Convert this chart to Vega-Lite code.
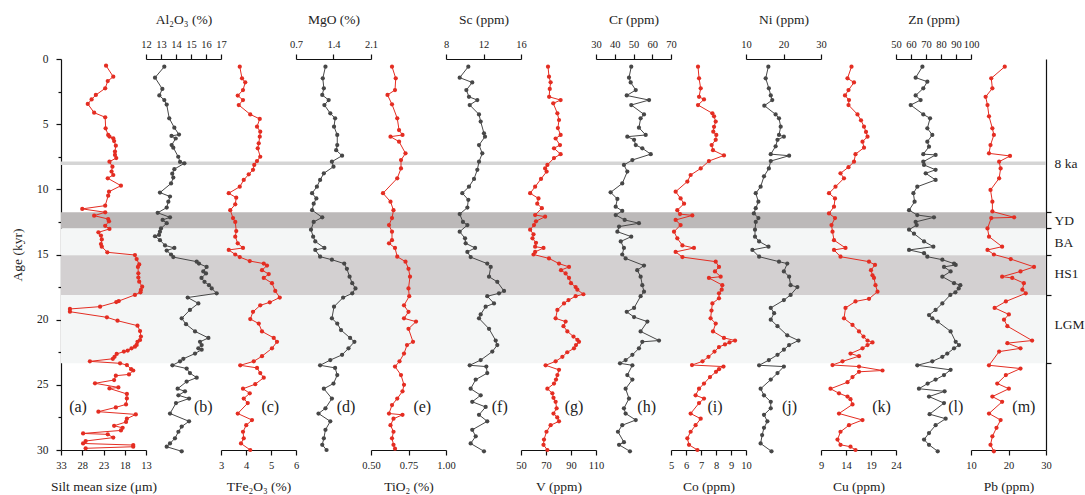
{
  "$schema": "https://vega.github.io/schema/vega-lite/v6.json",
  "padding": {"left": 10, "top": 12, "right": 5, "bottom": 2},
  "background": "white",
  "spacing": 0,
  "bounds": "flush",
  "config": {
    "font": "Liberation Serif",
    "view": {"stroke": null},
    "axis": {"domainColor": "#111", "tickColor": "#111", "labelColor": "#222", "titleColor": "#222", "labelFontSize": 10.5, "titleFontSize": 13.5, "titleFontWeight": "normal", "grid": false, "tickSize": 5, "domainWidth": 1.2, "tickWidth": 1.2, "labelFlush": false, "labelOverlap": false, "labelPadding": 5, "titlePadding": 13},
    "axisBottom": {"titlePadding": 9},
    "text": {"font": "Liberation Serif"}
  },
  "datasets": {
    "bands": [
      {"start": 11.75, "end": 13.0, "kind": "YD"},
      {"start": 13.0, "end": 15.05, "kind": "BA"},
      {"start": 15.05, "end": 18.1, "kind": "HS1"},
      {"start": 18.1, "end": 23.35, "kind": "LGM"}
    ],
    "silt": [
      {"age":0.51,"v":22.4},{"age":1.36,"v":20.7},{"age":1.69,"v":22.0},{"age":2.25,"v":22.6},{"age":2.76,"v":24.8},{"age":3.1,"v":25.8},{"age":3.45,"v":26.7},{"age":4.12,"v":25.2},{"age":4.47,"v":22.6},{"age":5.32,"v":22.5},{"age":5.83,"v":21.9},{"age":5.95,"v":21.6},{"age":6.09,"v":20.7},{"age":6.3,"v":20.5},{"age":6.65,"v":20.1},{"age":7.1,"v":20.3},{"age":7.36,"v":20.3},{"age":7.6,"v":20.0},{"age":7.88,"v":21.6},{"age":8.26,"v":20.9},{"age":8.64,"v":21.1},{"age":8.9,"v":20.7},{"age":9.15,"v":22.0},{"age":9.72,"v":18.9},{"age":10.18,"v":21.7},{"age":10.49,"v":21.9},{"age":11.25,"v":22.6},{"age":11.5,"v":28.0},{"age":11.76,"v":22.6},{"age":12.02,"v":25.2},{"age":12.28,"v":21.9},{"age":12.45,"v":21.7},{"age":12.8,"v":22.6},{"age":13.04,"v":21.6},{"age":13.3,"v":24.2},{"age":13.55,"v":23.6},{"age":13.84,"v":23.4},{"age":14.2,"v":23.6},{"age":14.4,"v":23.4},{"age":14.83,"v":22.1},{"age":15.04,"v":15.6},{"age":15.35,"v":15.2},{"age":15.76,"v":14.6},{"age":15.95,"v":14.9},{"age":16.44,"v":14.8},{"age":16.77,"v":14.8},{"age":17.09,"v":14.6},{"age":17.47,"v":13.9},{"age":17.72,"v":14.2},{"age":17.9,"v":14.3},{"age":18.1,"v":15.6},{"age":18.57,"v":19.4},{"age":18.65,"v":20.0},{"age":19.0,"v":23.8},{"age":19.18,"v":30.9},{"age":19.39,"v":30.9},{"age":19.82,"v":22.2},{"age":20.08,"v":19.7},{"age":20.46,"v":15.0},{"age":20.87,"v":14.4},{"age":21.3,"v":14.2},{"age":21.56,"v":14.4},{"age":21.7,"v":15.0},{"age":21.94,"v":15.2},{"age":22.07,"v":15.6},{"age":22.2,"v":16.4},{"age":22.37,"v":17.3},{"age":22.45,"v":18.2},{"age":22.63,"v":19.9},{"age":22.85,"v":20.4},{"age":23.0,"v":20.8},{"age":23.2,"v":26.2},{"age":23.35,"v":19.1},{"age":23.48,"v":17.5},{"age":23.8,"v":16.5},{"age":23.9,"v":16.0},{"age":24.2,"v":17.0},{"age":24.3,"v":20.1},{"age":24.63,"v":20.5},{"age":24.88,"v":25.0},{"age":25.2,"v":19.5},{"age":25.28,"v":21.6},{"age":25.7,"v":17.5},{"age":26.04,"v":17.5},{"age":26.5,"v":17.7},{"age":26.73,"v":20.1},{"age":27.06,"v":24.2},{"age":27.27,"v":15.4},{"age":27.6,"v":17.5},{"age":27.85,"v":17.7},{"age":28.14,"v":20.5},{"age":28.3,"v":18.5},{"age":28.5,"v":18.9},{"age":28.73,"v":27.8},{"age":28.8,"v":22.0},{"age":29.05,"v":20.7},{"age":29.31,"v":27.2},{"age":29.5,"v":27.8},{"age":29.62,"v":16.0},{"age":29.75,"v":16.0},{"age":29.87,"v":27.2}
    ],
    "al": [
      {"age":0.59,"v":13.22},{"age":1.43,"v":12.6},{"age":2.3,"v":13.09},{"age":2.8,"v":12.89},{"age":3.15,"v":13.22},{"age":3.5,"v":13.38},{"age":4.55,"v":13.55},{"age":5.27,"v":13.89},{"age":5.8,"v":14.2},{"age":5.9,"v":13.7},{"age":6.1,"v":13.98},{"age":6.6,"v":13.71},{"age":6.8,"v":13.82},{"age":7.5,"v":14.15},{"age":7.9,"v":14.27},{"age":8.0,"v":14.56},{"age":8.45,"v":13.89},{"age":8.8,"v":13.75},{"age":9.1,"v":13.82},{"age":9.55,"v":13.67},{"age":10.25,"v":12.93},{"age":10.55,"v":13.6},{"age":10.95,"v":13.49},{"age":11.4,"v":13.38},{"age":11.8,"v":12.78},{"age":12.15,"v":13.6},{"age":12.35,"v":13.11},{"age":12.6,"v":13.38},{"age":13.0,"v":13.0},{"age":13.25,"v":12.93},{"age":13.5,"v":12.87},{"age":13.6,"v":12.6},{"age":13.9,"v":12.93},{"age":14.3,"v":13.27},{"age":14.5,"v":13.89},{"age":14.7,"v":13.38},{"age":15.0,"v":13.67},{"age":15.2,"v":13.82},{"age":15.55,"v":15.38},{"age":15.7,"v":15.53},{"age":15.95,"v":16.04},{"age":16.3,"v":15.82},{"age":16.45,"v":16.0},{"age":16.8,"v":15.7},{"age":17.1,"v":15.9},{"age":17.35,"v":16.2},{"age":17.6,"v":16.38},{"age":17.98,"v":16.71},{"age":18.3,"v":14.78},{"age":18.75,"v":15.49},{"age":19.25,"v":14.93},{"age":19.9,"v":14.38},{"age":20.35,"v":14.67},{"age":20.9,"v":15.27},{"age":21.4,"v":16.16},{"age":21.7,"v":15.6},{"age":21.95,"v":15.71},{"age":22.2,"v":15.49},{"age":22.3,"v":15.71},{"age":22.6,"v":15.27},{"age":23.0,"v":14.49},{"age":23.2,"v":14.27},{"age":23.5,"v":13.76},{"age":23.75,"v":14.71},{"age":24.1,"v":14.93},{"age":24.45,"v":15.38},{"age":24.75,"v":14.71},{"age":25.3,"v":14.11},{"age":25.5,"v":14.6},{"age":25.8,"v":14.16},{"age":26.05,"v":14.87},{"age":26.4,"v":14.0},{"age":27.2,"v":13.6},{"age":27.8,"v":14.87},{"age":28.2,"v":14.38},{"age":28.6,"v":14.16},{"age":29.1,"v":13.93},{"age":29.5,"v":13.6},{"age":29.75,"v":13.38},{"age":30.1,"v":14.38}
    ],
    "tfe": [
      {"age":0.59,"v":3.75},{"age":1.48,"v":3.84},{"age":1.79,"v":3.97},{"age":2.38,"v":3.88},{"age":2.81,"v":3.67},{"age":3.15,"v":3.88},{"age":3.53,"v":3.71},{"age":4.25,"v":4.17},{"age":4.6,"v":4.55},{"age":5.19,"v":4.44},{"age":5.58,"v":4.57},{"age":5.96,"v":4.55},{"age":6.47,"v":4.51},{"age":6.85,"v":4.47},{"age":7.5,"v":4.57},{"age":7.83,"v":4.44},{"age":8.13,"v":4.33},{"age":8.5,"v":4.28},{"age":8.85,"v":4.11},{"age":9.28,"v":3.91},{"age":9.8,"v":3.75},{"age":10.3,"v":3.31},{"age":10.64,"v":3.61},{"age":11.15,"v":3.57},{"age":11.6,"v":3.37},{"age":12.2,"v":3.48},{"age":12.5,"v":3.57},{"age":13.2,"v":3.61},{"age":13.63,"v":3.57},{"age":14.14,"v":3.67},{"age":14.5,"v":3.88},{"age":14.65,"v":3.31},{"age":15.0,"v":3.57},{"age":15.2,"v":3.75},{"age":15.5,"v":4.15},{"age":15.7,"v":4.71},{"age":15.85,"v":4.84},{"age":16.2,"v":4.64},{"age":16.5,"v":4.91},{"age":16.8,"v":4.71},{"age":17.2,"v":5.04},{"age":17.8,"v":5.17},{"age":18.3,"v":5.35},{"age":18.67,"v":4.95},{"age":18.9,"v":4.57},{"age":19.4,"v":4.28},{"age":19.95,"v":4.17},{"age":20.3,"v":4.51},{"age":20.9,"v":4.64},{"age":21.4,"v":5.11},{"age":21.7,"v":5.24},{"age":22.2,"v":5.04},{"age":22.8,"v":4.64},{"age":23.2,"v":4.31},{"age":23.5,"v":3.77},{"age":23.7,"v":4.44},{"age":24.1,"v":4.57},{"age":24.45,"v":4.71},{"age":24.95,"v":4.37},{"age":25.3,"v":3.88},{"age":25.65,"v":4.15},{"age":26.05,"v":3.91},{"age":26.4,"v":4.07},{"age":27.2,"v":3.67},{"age":27.7,"v":4.24},{"age":28.1,"v":4.01},{"age":28.6,"v":3.88},{"age":29.1,"v":3.91},{"age":29.5,"v":3.8},{"age":30.0,"v":4.17}
    ],
    "mgo": [
      {"age":0.59,"v":1.25},{"age":1.48,"v":1.2},{"age":2.25,"v":1.22},{"age":2.76,"v":1.19},{"age":3.15,"v":1.31},{"age":3.53,"v":1.23},{"age":4.17,"v":1.34},{"age":4.55,"v":1.43},{"age":5.19,"v":1.41},{"age":5.83,"v":1.47},{"age":6.6,"v":1.47},{"age":7.0,"v":1.45},{"age":7.42,"v":1.56},{"age":7.88,"v":1.37},{"age":8.26,"v":1.4},{"age":8.77,"v":1.22},{"age":9.28,"v":1.15},{"age":9.8,"v":1.09},{"age":10.3,"v":1.0},{"age":10.7,"v":1.08},{"age":11.1,"v":1.03},{"age":11.6,"v":1.0},{"age":12.15,"v":1.19},{"age":12.5,"v":1.03},{"age":13.1,"v":0.98},{"age":13.63,"v":1.02},{"age":14.0,"v":1.06},{"age":14.5,"v":1.23},{"age":14.65,"v":1.06},{"age":15.17,"v":1.15},{"age":15.4,"v":1.37},{"age":15.7,"v":1.6},{"age":16.1,"v":1.65},{"age":16.7,"v":1.7},{"age":17.2,"v":1.75},{"age":17.6,"v":1.81},{"age":17.98,"v":1.75},{"age":18.3,"v":1.58},{"age":19.0,"v":1.41},{"age":19.9,"v":1.37},{"age":20.3,"v":1.47},{"age":20.8,"v":1.54},{"age":21.4,"v":1.71},{"age":21.7,"v":1.79},{"age":22.2,"v":1.68},{"age":22.7,"v":1.56},{"age":23.1,"v":1.34},{"age":23.5,"v":1.15},{"age":23.7,"v":1.43},{"age":24.25,"v":1.47},{"age":24.9,"v":1.4},{"age":25.3,"v":1.22},{"age":26.05,"v":1.37},{"age":26.8,"v":1.25},{"age":27.2,"v":1.12},{"age":27.8,"v":1.34},{"age":28.45,"v":1.25},{"age":29.1,"v":1.22},{"age":29.6,"v":1.19},{"age":30.0,"v":1.27}
    ],
    "tio": [
      {"age":0.59,"v":0.64},{"age":1.48,"v":0.665},{"age":2.38,"v":0.66},{"age":2.76,"v":0.61},{"age":3.48,"v":0.64},{"age":4.55,"v":0.675},{"age":5.45,"v":0.687},{"age":5.83,"v":0.71},{"age":5.96,"v":0.63},{"age":6.34,"v":0.687},{"age":7.24,"v":0.73},{"age":7.75,"v":0.7},{"age":8.4,"v":0.7},{"age":9.15,"v":0.675},{"age":10.3,"v":0.58},{"age":10.95,"v":0.63},{"age":11.6,"v":0.65},{"age":12.2,"v":0.64},{"age":12.74,"v":0.62},{"age":13.25,"v":0.64},{"age":13.9,"v":0.64},{"age":14.14,"v":0.62},{"age":14.5,"v":0.66},{"age":15.17,"v":0.675},{"age":15.55,"v":0.73},{"age":16.1,"v":0.75},{"age":16.7,"v":0.76},{"age":17.6,"v":0.75},{"age":18.2,"v":0.755},{"age":18.9,"v":0.72},{"age":19.4,"v":0.75},{"age":19.9,"v":0.72},{"age":20.15,"v":0.8},{"age":20.7,"v":0.75},{"age":21.7,"v":0.78},{"age":21.95,"v":0.74},{"age":22.6,"v":0.72},{"age":23.2,"v":0.69},{"age":23.6,"v":0.66},{"age":24.25,"v":0.7},{"age":25.0,"v":0.72},{"age":25.5,"v":0.71},{"age":26.05,"v":0.675},{"age":26.55,"v":0.64},{"age":27.2,"v":0.62},{"age":27.3,"v":0.71},{"age":27.6,"v":0.65},{"age":28.1,"v":0.63},{"age":28.6,"v":0.65},{"age":29.1,"v":0.64},{"age":29.6,"v":0.65},{"age":29.9,"v":0.66}
    ],
    "sc": [
      {"age":0.59,"v":10.38},{"age":1.43,"v":9.46},{"age":1.8,"v":10.8},{"age":2.38,"v":10.17},{"age":2.9,"v":10.45},{"age":3.15,"v":11.34},{"age":3.53,"v":10.53},{"age":4.25,"v":11.52},{"age":4.8,"v":11.7},{"age":5.7,"v":12.05},{"age":5.96,"v":12.16},{"age":6.6,"v":11.52},{"age":7.24,"v":11.87},{"age":7.88,"v":11.52},{"age":8.5,"v":11.34},{"age":9.2,"v":10.99},{"age":9.8,"v":10.45},{"age":10.3,"v":9.74},{"age":10.8,"v":10.38},{"age":11.4,"v":10.28},{"age":11.9,"v":9.46},{"age":12.5,"v":9.81},{"age":12.74,"v":10.28},{"age":13.25,"v":9.46},{"age":13.76,"v":10.03},{"age":14.14,"v":10.1},{"age":14.5,"v":11.1},{"age":14.8,"v":10.28},{"age":15.2,"v":10.63},{"age":15.7,"v":12.4},{"age":15.95,"v":12.77},{"age":16.7,"v":12.59},{"age":17.1,"v":13.47},{"age":17.8,"v":14.19},{"age":17.98,"v":13.65},{"age":18.2,"v":12.4},{"age":18.75,"v":13.12},{"age":19.0,"v":12.23},{"age":19.6,"v":11.7},{"age":19.9,"v":11.52},{"age":20.7,"v":12.59},{"age":21.6,"v":13.3},{"age":21.95,"v":13.47},{"age":22.45,"v":12.94},{"age":23.1,"v":11.7},{"age":23.5,"v":10.53},{"age":23.6,"v":12.3},{"age":24.1,"v":12.4},{"age":24.6,"v":11.17},{"age":25.3,"v":10.63},{"age":25.8,"v":11.7},{"age":26.3,"v":10.8},{"age":26.7,"v":12.23},{"age":27.3,"v":11.52},{"age":27.8,"v":12.4},{"age":28.45,"v":10.8},{"age":28.95,"v":11.17},{"age":29.5,"v":10.63},{"age":30.1,"v":12.05}
    ],
    "vv": [
      {"age":0.59,"v":71.6},{"age":1.36,"v":72.4},{"age":1.79,"v":73.7},{"age":2.3,"v":73.0},{"age":2.9,"v":72.5},{"age":3.15,"v":81.7},{"age":3.4,"v":75.8},{"age":4.17,"v":79.1},{"age":4.68,"v":80.4},{"age":5.3,"v":79.5},{"age":5.83,"v":81.7},{"age":6.1,"v":77.7},{"age":6.6,"v":81.2},{"age":6.85,"v":76.4},{"age":7.3,"v":81.7},{"age":7.6,"v":76.4},{"age":8.13,"v":71.1},{"age":8.4,"v":69.3},{"age":8.64,"v":70.5},{"age":9.2,"v":66.0},{"age":9.8,"v":61.3},{"age":10.3,"v":57.3},{"age":10.7,"v":64.0},{"age":11.1,"v":63.0},{"age":11.45,"v":66.7},{"age":11.97,"v":61.3},{"age":12.1,"v":69.3},{"age":12.45,"v":62.0},{"age":12.74,"v":60.4},{"age":13.1,"v":57.3},{"age":13.45,"v":60.0},{"age":13.76,"v":59.2},{"age":14.1,"v":62.0},{"age":14.4,"v":61.3},{"age":14.5,"v":68.0},{"age":14.8,"v":61.3},{"age":15.0,"v":60.0},{"age":15.3,"v":72.4},{"age":15.7,"v":80.4},{"age":15.95,"v":88.4},{"age":16.2,"v":82.0},{"age":16.45,"v":85.7},{"age":16.8,"v":88.4},{"age":17.2,"v":90.0},{"age":17.5,"v":93.7},{"age":17.7,"v":95.1},{"age":18.05,"v":99.9},{"age":18.2,"v":93.7},{"age":18.5,"v":88.0},{"age":18.75,"v":84.4},{"age":19.25,"v":79.1},{"age":19.9,"v":77.7},{"age":20.15,"v":85.7},{"age":20.5,"v":84.0},{"age":20.9,"v":87.1},{"age":21.3,"v":92.0},{"age":21.55,"v":95.1},{"age":21.7,"v":96.4},{"age":21.95,"v":94.0},{"age":22.2,"v":92.4},{"age":22.5,"v":87.0},{"age":22.85,"v":83.1},{"age":23.2,"v":77.7},{"age":23.5,"v":69.7},{"age":23.85,"v":80.4},{"age":24.25,"v":79.1},{"age":24.6,"v":78.0},{"age":24.9,"v":76.4},{"age":25.3,"v":71.1},{"age":25.65,"v":75.1},{"age":26.0,"v":76.0},{"age":26.3,"v":77.7},{"age":26.8,"v":78.5},{"age":27.2,"v":76.0},{"age":27.5,"v":79.0},{"age":27.8,"v":80.4},{"age":28.1,"v":73.7},{"age":28.6,"v":70.4},{"age":29.2,"v":68.4},{"age":29.6,"v":68.0},{"age":30.0,"v":71.1}
    ],
    "cr": [
      {"age":0.59,"v":48.8},{"age":1.43,"v":47.6},{"age":1.8,"v":48.5},{"age":2.38,"v":51.2},{"age":2.8,"v":46.4},{"age":3.15,"v":58.3},{"age":3.53,"v":48.8},{"age":4.25,"v":55.6},{"age":4.55,"v":53.8},{"age":5.27,"v":52.9},{"age":5.83,"v":56.5},{"age":5.96,"v":46.7},{"age":6.2,"v":50.3},{"age":6.6,"v":51.2},{"age":6.85,"v":54.7},{"age":7.3,"v":59.2},{"age":7.75,"v":49.4},{"age":8.13,"v":44.9},{"age":8.64,"v":46.7},{"age":9.55,"v":44.0},{"age":10.23,"v":37.8},{"age":10.74,"v":41.4},{"age":11.33,"v":40.5},{"age":11.66,"v":44.0},{"age":11.97,"v":40.5},{"age":12.35,"v":45.3},{"age":12.6,"v":52.9},{"age":12.86,"v":42.3},{"age":13.25,"v":41.4},{"age":13.63,"v":48.8},{"age":14.0,"v":43.2},{"age":14.5,"v":44.9},{"age":15.0,"v":44.0},{"age":15.3,"v":45.8},{"age":15.85,"v":55.6},{"age":16.2,"v":52.0},{"age":16.7,"v":53.8},{"age":17.35,"v":54.7},{"age":17.85,"v":55.6},{"age":18.2,"v":53.8},{"age":19.1,"v":50.3},{"age":19.4,"v":46.4},{"age":19.8,"v":50.3},{"age":20.15,"v":57.4},{"age":20.9,"v":53.8},{"age":21.6,"v":63.6},{"age":21.7,"v":54.7},{"age":22.2,"v":52.9},{"age":22.7,"v":49.4},{"age":23.1,"v":45.8},{"age":23.35,"v":42.8},{"age":23.5,"v":49.4},{"age":24.25,"v":46.7},{"age":24.6,"v":49.4},{"age":25.3,"v":45.8},{"age":26.05,"v":47.6},{"age":26.8,"v":44.9},{"age":27.2,"v":45.8},{"age":27.7,"v":51.2},{"age":28.1,"v":44.0},{"age":28.6,"v":41.7},{"age":29.4,"v":44.9},{"age":29.6,"v":42.3},{"age":30.1,"v":48.1}
    ],
    "co": [
      {"age":0.59,"v":6.8},{"age":1.48,"v":6.87},{"age":2.25,"v":6.98},{"age":2.9,"v":6.87},{"age":3.1,"v":7.2},{"age":3.53,"v":6.8},{"age":4.17,"v":7.76},{"age":4.4,"v":7.87},{"age":4.8,"v":7.98},{"age":5.2,"v":7.87},{"age":5.58,"v":7.82},{"age":5.83,"v":8.02},{"age":6.2,"v":7.98},{"age":6.6,"v":7.71},{"age":7.0,"v":7.8},{"age":7.4,"v":8.53},{"age":7.83,"v":7.53},{"age":8.4,"v":6.98},{"age":8.9,"v":6.31},{"age":9.4,"v":6.09},{"age":10.18,"v":5.31},{"age":10.7,"v":5.64},{"age":11.1,"v":5.87},{"age":11.6,"v":5.42},{"age":11.9,"v":5.6},{"age":12.0,"v":6.42},{"age":12.35,"v":5.31},{"age":12.74,"v":5.64},{"age":13.25,"v":5.2},{"age":13.76,"v":5.42},{"age":14.3,"v":5.76},{"age":14.5,"v":6.53},{"age":14.8,"v":5.31},{"age":15.2,"v":5.76},{"age":15.55,"v":7.98},{"age":15.95,"v":8.2},{"age":16.3,"v":7.93},{"age":16.7,"v":8.31},{"age":16.8,"v":7.53},{"age":17.35,"v":8.42},{"age":17.7,"v":8.38},{"age":17.98,"v":8.2},{"age":18.36,"v":8.2},{"age":18.75,"v":7.76},{"age":19.3,"v":7.7},{"age":19.9,"v":7.64},{"age":20.3,"v":7.98},{"age":20.9,"v":7.8},{"age":21.4,"v":8.53},{"age":21.6,"v":9.27},{"age":21.75,"v":8.9},{"age":21.9,"v":8.6},{"age":22.1,"v":8.2},{"age":22.45,"v":7.9},{"age":22.85,"v":7.5},{"age":23.2,"v":7.1},{"age":23.48,"v":6.4},{"age":23.6,"v":8.5},{"age":23.8,"v":8.2},{"age":24.0,"v":8.0},{"age":24.4,"v":7.6},{"age":24.9,"v":7.2},{"age":25.3,"v":6.87},{"age":25.8,"v":6.64},{"age":26.05,"v":7.2},{"age":26.4,"v":6.87},{"age":27.2,"v":6.31},{"age":27.6,"v":6.98},{"age":28.1,"v":6.64},{"age":28.6,"v":6.31},{"age":29.1,"v":6.09},{"age":29.6,"v":6.2},{"age":30.0,"v":6.76}
    ],
    "ni": [
      {"age":0.59,"v":15.96},{"age":1.48,"v":15.25},{"age":2.25,"v":16.1},{"age":2.8,"v":16.6},{"age":3.15,"v":17.0},{"age":3.58,"v":14.9},{"age":4.25,"v":17.9},{"age":4.55,"v":18.8},{"age":5.19,"v":19.25},{"age":5.83,"v":18.8},{"age":5.96,"v":20.1},{"age":6.2,"v":18.4},{"age":6.7,"v":17.9},{"age":7.3,"v":16.6},{"age":7.42,"v":21.5},{"age":7.83,"v":16.6},{"age":8.4,"v":16.1},{"age":9.0,"v":14.8},{"age":9.8,"v":13.9},{"age":10.3,"v":12.6},{"age":10.95,"v":13.3},{"age":11.45,"v":12.6},{"age":11.85,"v":12.1},{"age":12.2,"v":13.3},{"age":12.5,"v":12.6},{"age":13.1,"v":12.4},{"age":13.63,"v":12.4},{"age":14.0,"v":13.5},{"age":14.4,"v":16.0},{"age":14.65,"v":11.7},{"age":15.17,"v":13.5},{"age":15.55,"v":18.8},{"age":15.7,"v":21.0},{"age":16.3,"v":20.1},{"age":16.7,"v":21.5},{"age":17.35,"v":21.9},{"age":17.5,"v":23.7},{"age":18.1,"v":21.9},{"age":18.5,"v":20.1},{"age":19.1,"v":16.6},{"age":19.5,"v":17.5},{"age":20.0,"v":16.6},{"age":20.5,"v":18.4},{"age":21.2,"v":21.0},{"age":21.6,"v":24.0},{"age":21.95,"v":21.5},{"age":22.3,"v":20.1},{"age":22.7,"v":18.4},{"age":23.1,"v":16.1},{"age":23.5,"v":13.5},{"age":23.6,"v":20.1},{"age":24.1,"v":18.4},{"age":24.6,"v":16.6},{"age":25.3,"v":13.9},{"age":25.8,"v":14.8},{"age":26.3,"v":16.6},{"age":26.8,"v":16.6},{"age":27.3,"v":14.8},{"age":27.8,"v":15.7},{"age":28.3,"v":14.8},{"age":28.85,"v":14.3},{"age":29.5,"v":13.9},{"age":30.1,"v":16.8}
    ],
    "cu": [
      {"age":0.59,"v":15.1},{"age":1.48,"v":14.3},{"age":1.8,"v":15.6},{"age":2.38,"v":14.5},{"age":2.8,"v":13.8},{"age":3.15,"v":14.6},{"age":3.53,"v":14.5},{"age":4.25,"v":16.3},{"age":4.7,"v":17.0},{"age":5.19,"v":17.6},{"age":5.6,"v":18.0},{"age":5.96,"v":18.3},{"age":6.34,"v":17.3},{"age":6.8,"v":17.6},{"age":7.3,"v":15.9},{"age":7.88,"v":15.6},{"age":8.3,"v":14.5},{"age":8.77,"v":12.9},{"age":9.15,"v":13.6},{"age":9.8,"v":11.9},{"age":10.3,"v":10.6},{"age":10.7,"v":11.8},{"age":11.33,"v":11.6},{"age":11.85,"v":10.6},{"age":12.2,"v":11.8},{"age":12.74,"v":11.1},{"age":13.25,"v":11.3},{"age":13.9,"v":11.6},{"age":14.5,"v":13.9},{"age":14.65,"v":11.6},{"age":15.17,"v":12.9},{"age":15.55,"v":18.6},{"age":15.8,"v":19.8},{"age":16.2,"v":19.0},{"age":16.6,"v":19.3},{"age":16.8,"v":19.6},{"age":17.35,"v":19.9},{"age":17.85,"v":20.3},{"age":18.4,"v":18.6},{"age":18.6,"v":15.9},{"age":19.1,"v":13.9},{"age":19.9,"v":13.6},{"age":20.4,"v":15.3},{"age":20.9,"v":16.6},{"age":21.3,"v":17.5},{"age":21.6,"v":18.3},{"age":21.75,"v":19.3},{"age":21.95,"v":18.3},{"age":22.2,"v":17.3},{"age":22.6,"v":14.9},{"age":22.8,"v":16.6},{"age":23.2,"v":13.3},{"age":23.48,"v":11.3},{"age":23.6,"v":16.6},{"age":23.9,"v":21.3},{"age":24.0,"v":16.6},{"age":24.4,"v":15.3},{"age":24.8,"v":14.3},{"age":25.3,"v":10.9},{"age":25.65,"v":12.6},{"age":25.9,"v":14.3},{"age":26.1,"v":14.9},{"age":26.5,"v":15.3},{"age":27.2,"v":12.6},{"age":27.7,"v":17.3},{"age":28.1,"v":14.6},{"age":28.6,"v":12.9},{"age":29.2,"v":12.3},{"age":29.6,"v":12.9},{"age":29.75,"v":14.9},{"age":30.0,"v":15.9}
    ],
    "zn": [
      {"age":0.59,"v":67.6},{"age":1.43,"v":63.1},{"age":1.74,"v":70.9},{"age":2.25,"v":68.2},{"age":2.8,"v":63.1},{"age":3.15,"v":66.4},{"age":3.53,"v":59.8},{"age":4.25,"v":68.2},{"age":4.55,"v":72.7},{"age":5.32,"v":70.9},{"age":5.83,"v":74.2},{"age":6.34,"v":70.9},{"age":6.73,"v":72.0},{"age":7.3,"v":68.2},{"age":7.36,"v":76.4},{"age":7.88,"v":68.2},{"age":8.13,"v":68.7},{"age":8.5,"v":76.4},{"age":8.77,"v":69.8},{"age":9.28,"v":76.4},{"age":9.8,"v":64.2},{"age":10.3,"v":61.6},{"age":10.95,"v":62.4},{"age":11.6,"v":58.7},{"age":11.97,"v":64.2},{"age":12.15,"v":75.3},{"age":12.5,"v":63.1},{"age":12.74,"v":63.8},{"age":13.1,"v":58.7},{"age":13.4,"v":62.0},{"age":14.0,"v":68.7},{"age":14.4,"v":74.9},{"age":14.65,"v":58.7},{"age":14.9,"v":68.7},{"age":15.17,"v":70.9},{"age":15.4,"v":80.9},{"age":15.7,"v":88.7},{"age":15.8,"v":89.8},{"age":15.95,"v":82.0},{"age":16.3,"v":86.4},{"age":16.7,"v":80.9},{"age":17.2,"v":88.7},{"age":17.35,"v":92.9},{"age":17.6,"v":91.8},{"age":17.9,"v":89.6},{"age":18.1,"v":86.2},{"age":18.75,"v":80.9},{"age":19.25,"v":76.4},{"age":19.65,"v":72.0},{"age":19.9,"v":74.2},{"age":20.15,"v":77.8},{"age":20.9,"v":86.4},{"age":21.7,"v":89.8},{"age":21.95,"v":92.0},{"age":22.2,"v":88.7},{"age":22.6,"v":84.2},{"age":22.85,"v":80.9},{"age":23.2,"v":74.2},{"age":23.5,"v":64.2},{"age":23.85,"v":86.4},{"age":24.25,"v":82.0},{"age":24.6,"v":76.4},{"age":24.9,"v":71.1},{"age":25.3,"v":65.3},{"age":25.5,"v":82.4},{"age":25.9,"v":72.0},{"age":26.4,"v":82.0},{"age":27.25,"v":72.4},{"age":27.6,"v":83.1},{"age":28.1,"v":76.4},{"age":28.7,"v":72.0},{"age":29.2,"v":68.7},{"age":29.6,"v":72.0},{"age":30.1,"v":77.8}
    ],
    "pb": [
      {"age":0.59,"v":19.0},{"age":1.48,"v":15.4},{"age":2.25,"v":15.7},{"age":2.9,"v":13.9},{"age":3.53,"v":14.4},{"age":4.4,"v":14.8},{"age":5.32,"v":15.7},{"age":5.83,"v":16.1},{"age":6.6,"v":15.2},{"age":7.24,"v":14.8},{"age":7.44,"v":20.4},{"age":7.88,"v":17.5},{"age":8.4,"v":17.9},{"age":9.15,"v":17.5},{"age":10.05,"v":15.2},{"age":10.95,"v":15.7},{"age":11.7,"v":15.7},{"age":12.15,"v":21.5},{"age":12.2,"v":15.4},{"age":13.0,"v":14.4},{"age":13.63,"v":14.8},{"age":14.4,"v":18.3},{"age":14.65,"v":14.4},{"age":15.0,"v":16.1},{"age":15.35,"v":20.6},{"age":15.95,"v":26.8},{"age":16.3,"v":23.2},{"age":16.7,"v":18.3},{"age":16.8,"v":21.0},{"age":17.2,"v":24.1},{"age":17.7,"v":23.7},{"age":17.98,"v":24.6},{"age":18.6,"v":19.3},{"age":19.1,"v":16.3},{"age":19.6,"v":20.1},{"age":20.0,"v":18.8},{"age":20.5,"v":19.7},{"age":21.6,"v":26.3},{"age":21.8,"v":19.7},{"age":22.2,"v":23.2},{"age":22.45,"v":17.5},{"age":23.5,"v":14.8},{"age":23.75,"v":23.2},{"age":24.25,"v":19.3},{"age":24.9,"v":17.0},{"age":25.3,"v":20.1},{"age":25.9,"v":15.7},{"age":26.3,"v":18.3},{"age":27.2,"v":14.8},{"age":27.7,"v":17.9},{"age":28.3,"v":16.8},{"age":28.95,"v":15.7},{"age":29.6,"v":15.2},{"age":30.1,"v":16.1}
    ]
  },
  "hconcat": [
    {
      "width": 85, "height": 391,
      "layer": [
        {"data": {"name": "bands"}, "mark": {"type": "rect"}, "encoding": {"y": {"field": "start", "type": "quantitative", "scale": {"domain": [0, 30], "reverse": true, "nice": false, "zero": false}, "axis": {"orient": "left", "title": "Age (kyr)", "values": [0, 2.5, 5, 7.5, 10, 12.5, 15, 17.5, 20, 22.5, 25, 27.5, 30], "labelExpr": "datum.value % 5 === 0 ? datum.label : ''", "tickSize": {"condition": {"test": "datum.value % 5 !== 0", "value": 3}, "value": 5}, "labelFontSize": 11.5, "labelPadding": 8, "titleFontSize": 13.5, "titlePadding": 12}}, "y2": {"field": "end"}, "color": {"field": "kind", "type": "nominal", "scale": {"domain": ["YD", "BA", "HS1", "LGM"], "range": ["#bcb9b9", "#f4f6f6", "#d3d0d1", "#f4f6f6"]}, "legend": null}}},
        {"data": {"values": [{}]}, "mark": {"type": "rule", "color": "#d5d5d5", "strokeWidth": 3.5}, "encoding": {"y": {"datum": 8, "type": "quantitative", "axis": {"orient": "left", "title": "Age (kyr)", "values": [0, 2.5, 5, 7.5, 10, 12.5, 15, 17.5, 20, 22.5, 25, 27.5, 30], "labelExpr": "datum.value % 5 === 0 ? datum.label : ''", "tickSize": {"condition": {"test": "datum.value % 5 !== 0", "value": 3}, "value": 5}, "labelFontSize": 11.5, "labelPadding": 8, "titleFontSize": 13.5, "titlePadding": 12}}}},
        {"data": {"name": "silt"},
         "encoding": {
           "x": {"field": "v", "type": "quantitative", "scale": {"domain": [13, 33], "reverse": true, "nice": false, "zero": false}, "axis": {"orient": "bottom", "title": "Silt mean size (μm)", "values": [33, 28, 23, 18, 13]}},
           "y": {"field": "age", "type": "quantitative", "scale": {"domain": [0, 30], "reverse": true, "nice": false, "zero": false}, "axis": {"orient": "left", "title": "Age (kyr)", "values": [0, 2.5, 5, 7.5, 10, 12.5, 15, 17.5, 20, 22.5, 25, 27.5, 30], "labelExpr": "datum.value % 5 === 0 ? datum.label : ''", "tickSize": {"condition": {"test": "datum.value % 5 !== 0", "value": 3}, "value": 5}, "labelFontSize": 11.5, "labelPadding": 8, "titleFontSize": 13.5, "titlePadding": 12}},
           "order": {"field": "age"}},
         "layer": [
           {"mark": {"type": "line", "color": "#e42d22", "strokeWidth": 1}},
           {"mark": {"type": "circle", "color": "#e42d22", "size": 18, "opacity": 1}}
         ]},
        {"data": {"values": [{}]}, "mark": {"type": "text", "text": "(a)", "fontSize": 16, "color": "#222"}, "encoding": {"x": {"datum": 29, "type": "quantitative", "axis": {"orient": "bottom", "title": "Silt mean size (μm)", "values": [33, 28, 23, 18, 13]}}, "y": {"datum": 26.7, "type": "quantitative", "axis": {"orient": "left", "title": "Age (kyr)", "values": [0, 2.5, 5, 7.5, 10, 12.5, 15, 17.5, 20, 22.5, 25, 27.5, 30], "labelExpr": "datum.value % 5 === 0 ? datum.label : ''", "tickSize": {"condition": {"test": "datum.value % 5 !== 0", "value": 3}, "value": 5}, "labelFontSize": 11.5, "labelPadding": 8, "titleFontSize": 13.5, "titlePadding": 12}}}}
      ]
    },
    {
      "width": 75, "height": 391,
      "layer": [
        {"data": {"name": "bands"}, "mark": {"type": "rect"}, "encoding": {"y": {"field": "start", "type": "quantitative", "scale": {"domain": [0, 30], "reverse": true, "nice": false, "zero": false}, "axis": null}, "y2": {"field": "end"}, "color": {"field": "kind", "type": "nominal", "scale": {"domain": ["YD", "BA", "HS1", "LGM"], "range": ["#bcb9b9", "#f4f6f6", "#d3d0d1", "#f4f6f6"]}, "legend": null}}},
        {"data": {"values": [{}]}, "mark": {"type": "rule", "color": "#d5d5d5", "strokeWidth": 3.5}, "encoding": {"y": {"datum": 8, "type": "quantitative", "axis": null}}},
        {"data": {"name": "al"},
         "encoding": {
           "x": {"field": "v", "type": "quantitative", "scale": {"domain": [12, 17], "nice": false, "zero": false}, "axis": {"orient": "top", "title": "Al₂O₃ (%)", "values": [12, 13, 14, 15, 16, 17]}},
           "y": {"field": "age", "type": "quantitative", "scale": {"domain": [0, 30], "reverse": true, "nice": false, "zero": false}, "axis": null},
           "order": {"field": "age"}},
         "layer": [
           {"mark": {"type": "line", "color": "#474747", "strokeWidth": 1}},
           {"mark": {"type": "circle", "color": "#474747", "size": 18, "opacity": 1}}
         ]},
        {"data": {"values": [{}]}, "mark": {"type": "text", "text": "(b)", "fontSize": 16, "color": "#222"}, "encoding": {"x": {"datum": 15.82, "type": "quantitative", "axis": {"orient": "top", "title": "Al₂O₃ (%)", "values": [12, 13, 14, 15, 16, 17]}}, "y": {"datum": 26.7, "type": "quantitative", "axis": null}}}
      ]
    },
    {
      "width": 75, "height": 391,
      "layer": [
        {"data": {"name": "bands"}, "mark": {"type": "rect"}, "encoding": {"y": {"field": "start", "type": "quantitative", "scale": {"domain": [0, 30], "reverse": true, "nice": false, "zero": false}, "axis": null}, "y2": {"field": "end"}, "color": {"field": "kind", "type": "nominal", "scale": {"domain": ["YD", "BA", "HS1", "LGM"], "range": ["#bcb9b9", "#f4f6f6", "#d3d0d1", "#f4f6f6"]}, "legend": null}}},
        {"data": {"values": [{}]}, "mark": {"type": "rule", "color": "#d5d5d5", "strokeWidth": 3.5}, "encoding": {"y": {"datum": 8, "type": "quantitative", "axis": null}}},
        {"data": {"name": "tfe"},
         "encoding": {
           "x": {"field": "v", "type": "quantitative", "scale": {"domain": [3, 6], "nice": false, "zero": false}, "axis": {"orient": "bottom", "title": "TFe₂O₃ (%)", "values": [3, 4, 5, 6]}},
           "y": {"field": "age", "type": "quantitative", "scale": {"domain": [0, 30], "reverse": true, "nice": false, "zero": false}, "axis": null},
           "order": {"field": "age"}},
         "layer": [
           {"mark": {"type": "line", "color": "#e42d22", "strokeWidth": 1}},
           {"mark": {"type": "circle", "color": "#e42d22", "size": 18, "opacity": 1}}
         ]},
        {"data": {"values": [{}]}, "mark": {"type": "text", "text": "(c)", "fontSize": 16, "color": "#222"}, "encoding": {"x": {"datum": 4.97, "type": "quantitative", "axis": {"orient": "bottom", "title": "TFe₂O₃ (%)", "values": [3, 4, 5, 6]}}, "y": {"datum": 26.7, "type": "quantitative", "axis": null}}}
      ]
    },
    {
      "width": 75, "height": 391,
      "layer": [
        {"data": {"name": "bands"}, "mark": {"type": "rect"}, "encoding": {"y": {"field": "start", "type": "quantitative", "scale": {"domain": [0, 30], "reverse": true, "nice": false, "zero": false}, "axis": null}, "y2": {"field": "end"}, "color": {"field": "kind", "type": "nominal", "scale": {"domain": ["YD", "BA", "HS1", "LGM"], "range": ["#bcb9b9", "#f4f6f6", "#d3d0d1", "#f4f6f6"]}, "legend": null}}},
        {"data": {"values": [{}]}, "mark": {"type": "rule", "color": "#d5d5d5", "strokeWidth": 3.5}, "encoding": {"y": {"datum": 8, "type": "quantitative", "axis": null}}},
        {"data": {"name": "mgo"},
         "encoding": {
           "x": {"field": "v", "type": "quantitative", "scale": {"domain": [0.7, 2.1], "nice": false, "zero": false}, "axis": {"orient": "top", "title": "MgO (%)", "values": [0.7, 1.4, 2.1], "format": ".1f"}},
           "y": {"field": "age", "type": "quantitative", "scale": {"domain": [0, 30], "reverse": true, "nice": false, "zero": false}, "axis": null},
           "order": {"field": "age"}},
         "layer": [
           {"mark": {"type": "line", "color": "#474747", "strokeWidth": 1}},
           {"mark": {"type": "circle", "color": "#474747", "size": 18, "opacity": 1}}
         ]},
        {"data": {"values": [{}]}, "mark": {"type": "text", "text": "(d)", "fontSize": 16, "color": "#222"}, "encoding": {"x": {"datum": 1.633, "type": "quantitative", "axis": {"orient": "top", "title": "MgO (%)", "values": [0.7, 1.4, 2.1], "format": ".1f"}}, "y": {"datum": 26.7, "type": "quantitative", "axis": null}}}
      ]
    },
    {
      "width": 75, "height": 391,
      "layer": [
        {"data": {"name": "bands"}, "mark": {"type": "rect"}, "encoding": {"y": {"field": "start", "type": "quantitative", "scale": {"domain": [0, 30], "reverse": true, "nice": false, "zero": false}, "axis": null}, "y2": {"field": "end"}, "color": {"field": "kind", "type": "nominal", "scale": {"domain": ["YD", "BA", "HS1", "LGM"], "range": ["#bcb9b9", "#f4f6f6", "#d3d0d1", "#f4f6f6"]}, "legend": null}}},
        {"data": {"values": [{}]}, "mark": {"type": "rule", "color": "#d5d5d5", "strokeWidth": 3.5}, "encoding": {"y": {"datum": 8, "type": "quantitative", "axis": null}}},
        {"data": {"name": "tio"},
         "encoding": {
           "x": {"field": "v", "type": "quantitative", "scale": {"domain": [0.5, 1.0], "nice": false, "zero": false}, "axis": {"orient": "bottom", "title": "TiO₂ (%)", "values": [0.5, 0.75, 1.0], "format": ".2f"}},
           "y": {"field": "age", "type": "quantitative", "scale": {"domain": [0, 30], "reverse": true, "nice": false, "zero": false}, "axis": null},
           "order": {"field": "age"}},
         "layer": [
           {"mark": {"type": "line", "color": "#e42d22", "strokeWidth": 1}},
           {"mark": {"type": "circle", "color": "#e42d22", "size": 18, "opacity": 1}}
         ]},
        {"data": {"values": [{}]}, "mark": {"type": "text", "text": "(e)", "fontSize": 16, "color": "#222"}, "encoding": {"x": {"datum": 0.842, "type": "quantitative", "axis": {"orient": "bottom", "title": "TiO₂ (%)", "values": [0.5, 0.75, 1.0], "format": ".2f"}}, "y": {"datum": 26.7, "type": "quantitative", "axis": null}}}
      ]
    },
    {
      "width": 75, "height": 391,
      "layer": [
        {"data": {"name": "bands"}, "mark": {"type": "rect"}, "encoding": {"y": {"field": "start", "type": "quantitative", "scale": {"domain": [0, 30], "reverse": true, "nice": false, "zero": false}, "axis": null}, "y2": {"field": "end"}, "color": {"field": "kind", "type": "nominal", "scale": {"domain": ["YD", "BA", "HS1", "LGM"], "range": ["#bcb9b9", "#f4f6f6", "#d3d0d1", "#f4f6f6"]}, "legend": null}}},
        {"data": {"values": [{}]}, "mark": {"type": "rule", "color": "#d5d5d5", "strokeWidth": 3.5}, "encoding": {"y": {"datum": 8, "type": "quantitative", "axis": null}}},
        {"data": {"name": "sc"},
         "encoding": {
           "x": {"field": "v", "type": "quantitative", "scale": {"domain": [8, 16], "nice": false, "zero": false}, "axis": {"orient": "top", "title": "Sc (ppm)", "values": [8, 12, 16]}},
           "y": {"field": "age", "type": "quantitative", "scale": {"domain": [0, 30], "reverse": true, "nice": false, "zero": false}, "axis": null},
           "order": {"field": "age"}},
         "layer": [
           {"mark": {"type": "line", "color": "#474747", "strokeWidth": 1}},
           {"mark": {"type": "circle", "color": "#474747", "size": 18, "opacity": 1}}
         ]},
        {"data": {"values": [{}]}, "mark": {"type": "text", "text": "(f)", "fontSize": 16, "color": "#222"}, "encoding": {"x": {"datum": 13.73, "type": "quantitative", "axis": {"orient": "top", "title": "Sc (ppm)", "values": [8, 12, 16]}}, "y": {"datum": 26.7, "type": "quantitative", "axis": null}}}
      ]
    },
    {
      "width": 75, "height": 391,
      "layer": [
        {"data": {"name": "bands"}, "mark": {"type": "rect"}, "encoding": {"y": {"field": "start", "type": "quantitative", "scale": {"domain": [0, 30], "reverse": true, "nice": false, "zero": false}, "axis": null}, "y2": {"field": "end"}, "color": {"field": "kind", "type": "nominal", "scale": {"domain": ["YD", "BA", "HS1", "LGM"], "range": ["#bcb9b9", "#f4f6f6", "#d3d0d1", "#f4f6f6"]}, "legend": null}}},
        {"data": {"values": [{}]}, "mark": {"type": "rule", "color": "#d5d5d5", "strokeWidth": 3.5}, "encoding": {"y": {"datum": 8, "type": "quantitative", "axis": null}}},
        {"data": {"name": "vv"},
         "encoding": {
           "x": {"field": "v", "type": "quantitative", "scale": {"domain": [50, 110], "nice": false, "zero": false}, "axis": {"orient": "bottom", "title": "V (ppm)", "values": [50, 70, 90, 110]}},
           "y": {"field": "age", "type": "quantitative", "scale": {"domain": [0, 30], "reverse": true, "nice": false, "zero": false}, "axis": null},
           "order": {"field": "age"}},
         "layer": [
           {"mark": {"type": "line", "color": "#e42d22", "strokeWidth": 1}},
           {"mark": {"type": "circle", "color": "#e42d22", "size": 18, "opacity": 1}}
         ]},
        {"data": {"values": [{}]}, "mark": {"type": "text", "text": "(g)", "fontSize": 16, "color": "#222"}, "encoding": {"x": {"datum": 92.4, "type": "quantitative", "axis": {"orient": "bottom", "title": "V (ppm)", "values": [50, 70, 90, 110]}}, "y": {"datum": 26.7, "type": "quantitative", "axis": null}}}
      ]
    },
    {
      "width": 75, "height": 391,
      "layer": [
        {"data": {"name": "bands"}, "mark": {"type": "rect"}, "encoding": {"y": {"field": "start", "type": "quantitative", "scale": {"domain": [0, 30], "reverse": true, "nice": false, "zero": false}, "axis": null}, "y2": {"field": "end"}, "color": {"field": "kind", "type": "nominal", "scale": {"domain": ["YD", "BA", "HS1", "LGM"], "range": ["#bcb9b9", "#f4f6f6", "#d3d0d1", "#f4f6f6"]}, "legend": null}}},
        {"data": {"values": [{}]}, "mark": {"type": "rule", "color": "#d5d5d5", "strokeWidth": 3.5}, "encoding": {"y": {"datum": 8, "type": "quantitative", "axis": null}}},
        {"data": {"name": "cr"},
         "encoding": {
           "x": {"field": "v", "type": "quantitative", "scale": {"domain": [30, 70], "nice": false, "zero": false}, "axis": {"orient": "top", "title": "Cr (ppm)", "values": [30, 40, 50, 60, 70]}},
           "y": {"field": "age", "type": "quantitative", "scale": {"domain": [0, 30], "reverse": true, "nice": false, "zero": false}, "axis": null},
           "order": {"field": "age"}},
         "layer": [
           {"mark": {"type": "line", "color": "#474747", "strokeWidth": 1}},
           {"mark": {"type": "circle", "color": "#474747", "size": 18, "opacity": 1}}
         ]},
        {"data": {"values": [{}]}, "mark": {"type": "text", "text": "(h)", "fontSize": 16, "color": "#222"}, "encoding": {"x": {"datum": 57.0, "type": "quantitative", "axis": {"orient": "top", "title": "Cr (ppm)", "values": [30, 40, 50, 60, 70]}}, "y": {"datum": 26.7, "type": "quantitative", "axis": null}}}
      ]
    },
    {
      "width": 75, "height": 391,
      "layer": [
        {"data": {"name": "bands"}, "mark": {"type": "rect"}, "encoding": {"y": {"field": "start", "type": "quantitative", "scale": {"domain": [0, 30], "reverse": true, "nice": false, "zero": false}, "axis": null}, "y2": {"field": "end"}, "color": {"field": "kind", "type": "nominal", "scale": {"domain": ["YD", "BA", "HS1", "LGM"], "range": ["#bcb9b9", "#f4f6f6", "#d3d0d1", "#f4f6f6"]}, "legend": null}}},
        {"data": {"values": [{}]}, "mark": {"type": "rule", "color": "#d5d5d5", "strokeWidth": 3.5}, "encoding": {"y": {"datum": 8, "type": "quantitative", "axis": null}}},
        {"data": {"name": "co"},
         "encoding": {
           "x": {"field": "v", "type": "quantitative", "scale": {"domain": [5, 10], "nice": false, "zero": false}, "axis": {"orient": "bottom", "title": "Co (ppm)", "values": [5, 6, 7, 8, 9, 10]}},
           "y": {"field": "age", "type": "quantitative", "scale": {"domain": [0, 30], "reverse": true, "nice": false, "zero": false}, "axis": null},
           "order": {"field": "age"}},
         "layer": [
           {"mark": {"type": "line", "color": "#e42d22", "strokeWidth": 1}},
           {"mark": {"type": "circle", "color": "#e42d22", "size": 18, "opacity": 1}}
         ]},
        {"data": {"values": [{}]}, "mark": {"type": "text", "text": "(i)", "fontSize": 16, "color": "#222"}, "encoding": {"x": {"datum": 7.93, "type": "quantitative", "axis": {"orient": "bottom", "title": "Co (ppm)", "values": [5, 6, 7, 8, 9, 10]}}, "y": {"datum": 26.7, "type": "quantitative", "axis": null}}}
      ]
    },
    {
      "width": 75, "height": 391,
      "layer": [
        {"data": {"name": "bands"}, "mark": {"type": "rect"}, "encoding": {"y": {"field": "start", "type": "quantitative", "scale": {"domain": [0, 30], "reverse": true, "nice": false, "zero": false}, "axis": null}, "y2": {"field": "end"}, "color": {"field": "kind", "type": "nominal", "scale": {"domain": ["YD", "BA", "HS1", "LGM"], "range": ["#bcb9b9", "#f4f6f6", "#d3d0d1", "#f4f6f6"]}, "legend": null}}},
        {"data": {"values": [{}]}, "mark": {"type": "rule", "color": "#d5d5d5", "strokeWidth": 3.5}, "encoding": {"y": {"datum": 8, "type": "quantitative", "axis": null}}},
        {"data": {"name": "ni"},
         "encoding": {
           "x": {"field": "v", "type": "quantitative", "scale": {"domain": [10, 30], "nice": false, "zero": false}, "axis": {"orient": "top", "title": "Ni (ppm)", "values": [10, 20, 30]}},
           "y": {"field": "age", "type": "quantitative", "scale": {"domain": [0, 30], "reverse": true, "nice": false, "zero": false}, "axis": null},
           "order": {"field": "age"}},
         "layer": [
           {"mark": {"type": "line", "color": "#474747", "strokeWidth": 1}},
           {"mark": {"type": "circle", "color": "#474747", "size": 18, "opacity": 1}}
         ]},
        {"data": {"values": [{}]}, "mark": {"type": "text", "text": "(j)", "fontSize": 16, "color": "#222"}, "encoding": {"x": {"datum": 21.6, "type": "quantitative", "axis": {"orient": "top", "title": "Ni (ppm)", "values": [10, 20, 30]}}, "y": {"datum": 26.7, "type": "quantitative", "axis": null}}}
      ]
    },
    {
      "width": 75, "height": 391,
      "layer": [
        {"data": {"name": "bands"}, "mark": {"type": "rect"}, "encoding": {"y": {"field": "start", "type": "quantitative", "scale": {"domain": [0, 30], "reverse": true, "nice": false, "zero": false}, "axis": null}, "y2": {"field": "end"}, "color": {"field": "kind", "type": "nominal", "scale": {"domain": ["YD", "BA", "HS1", "LGM"], "range": ["#bcb9b9", "#f4f6f6", "#d3d0d1", "#f4f6f6"]}, "legend": null}}},
        {"data": {"values": [{}]}, "mark": {"type": "rule", "color": "#d5d5d5", "strokeWidth": 3.5}, "encoding": {"y": {"datum": 8, "type": "quantitative", "axis": null}}},
        {"data": {"name": "cu"},
         "encoding": {
           "x": {"field": "v", "type": "quantitative", "scale": {"domain": [9, 24], "nice": false, "zero": false}, "axis": {"orient": "bottom", "title": "Cu (ppm)", "values": [9, 14, 19, 24]}},
           "y": {"field": "age", "type": "quantitative", "scale": {"domain": [0, 30], "reverse": true, "nice": false, "zero": false}, "axis": null},
           "order": {"field": "age"}},
         "layer": [
           {"mark": {"type": "line", "color": "#e42d22", "strokeWidth": 1}},
           {"mark": {"type": "circle", "color": "#e42d22", "size": 18, "opacity": 1}}
         ]},
        {"data": {"values": [{}]}, "mark": {"type": "text", "text": "(k)", "fontSize": 16, "color": "#222"}, "encoding": {"x": {"datum": 21.1, "type": "quantitative", "axis": {"orient": "bottom", "title": "Cu (ppm)", "values": [9, 14, 19, 24]}}, "y": {"datum": 26.7, "type": "quantitative", "axis": null}}}
      ]
    },
    {
      "width": 75, "height": 391,
      "layer": [
        {"data": {"name": "bands"}, "mark": {"type": "rect"}, "encoding": {"y": {"field": "start", "type": "quantitative", "scale": {"domain": [0, 30], "reverse": true, "nice": false, "zero": false}, "axis": null}, "y2": {"field": "end"}, "color": {"field": "kind", "type": "nominal", "scale": {"domain": ["YD", "BA", "HS1", "LGM"], "range": ["#bcb9b9", "#f4f6f6", "#d3d0d1", "#f4f6f6"]}, "legend": null}}},
        {"data": {"values": [{}]}, "mark": {"type": "rule", "color": "#d5d5d5", "strokeWidth": 3.5}, "encoding": {"y": {"datum": 8, "type": "quantitative", "axis": null}}},
        {"data": {"name": "zn"},
         "encoding": {
           "x": {"field": "v", "type": "quantitative", "scale": {"domain": [50, 100], "nice": false, "zero": false}, "axis": {"orient": "top", "title": "Zn (ppm)", "values": [50, 60, 70, 80, 90, 100]}},
           "y": {"field": "age", "type": "quantitative", "scale": {"domain": [0, 30], "reverse": true, "nice": false, "zero": false}, "axis": null},
           "order": {"field": "age"}},
         "layer": [
           {"mark": {"type": "line", "color": "#474747", "strokeWidth": 1}},
           {"mark": {"type": "circle", "color": "#474747", "size": 18, "opacity": 1}}
         ]},
        {"data": {"values": [{}]}, "mark": {"type": "text", "text": "(l)", "fontSize": 16, "color": "#222"}, "encoding": {"x": {"datum": 89.8, "type": "quantitative", "axis": {"orient": "top", "title": "Zn (ppm)", "values": [50, 60, 70, 80, 90, 100]}}, "y": {"datum": 26.7, "type": "quantitative", "axis": null}}}
      ]
    },
    {
      "width": 75, "height": 391,
      "layer": [
        {"data": {"name": "bands"}, "mark": {"type": "rect"}, "encoding": {"y": {"field": "start", "type": "quantitative", "scale": {"domain": [0, 30], "reverse": true, "nice": false, "zero": false}, "axis": {"orient": "right", "title": null, "values": [8, 11.75, 12.4, 13.0, 14.1, 15.05, 16.45, 18.1, 20.4, 23.35], "labelExpr": "datum.value == 8 ? '8 ka' : datum.value == 12.4 ? 'YD' : datum.value == 14.1 ? 'BA' : datum.value == 16.45 ? 'HS1' : datum.value == 20.4 ? 'LGM' : ''", "tickColor": {"condition": {"test": "indexof([8, 12.4, 14.1, 16.45, 20.4], datum.value) >= 0", "value": "transparent"}, "value": "#111"}, "labelFontSize": 13.5, "labelPadding": 3}}, "y2": {"field": "end"}, "color": {"field": "kind", "type": "nominal", "scale": {"domain": ["YD", "BA", "HS1", "LGM"], "range": ["#bcb9b9", "#f4f6f6", "#d3d0d1", "#f4f6f6"]}, "legend": null}}},
        {"data": {"values": [{}]}, "mark": {"type": "rule", "color": "#d5d5d5", "strokeWidth": 3.5}, "encoding": {"y": {"datum": 8, "type": "quantitative", "axis": {"orient": "right", "title": null, "values": [8, 11.75, 12.4, 13.0, 14.1, 15.05, 16.45, 18.1, 20.4, 23.35], "labelExpr": "datum.value == 8 ? '8 ka' : datum.value == 12.4 ? 'YD' : datum.value == 14.1 ? 'BA' : datum.value == 16.45 ? 'HS1' : datum.value == 20.4 ? 'LGM' : ''", "tickColor": {"condition": {"test": "indexof([8, 12.4, 14.1, 16.45, 20.4], datum.value) >= 0", "value": "transparent"}, "value": "#111"}, "labelFontSize": 13.5, "labelPadding": 3}}}},
        {"data": {"name": "pb"},
         "encoding": {
           "x": {"field": "v", "type": "quantitative", "scale": {"domain": [10, 30], "nice": false, "zero": false}, "axis": {"orient": "bottom", "title": "Pb (ppm)", "values": [10, 20, 30]}},
           "y": {"field": "age", "type": "quantitative", "scale": {"domain": [0, 30], "reverse": true, "nice": false, "zero": false}, "axis": {"orient": "right", "title": null, "values": [8, 11.75, 12.4, 13.0, 14.1, 15.05, 16.45, 18.1, 20.4, 23.35], "labelExpr": "datum.value == 8 ? '8 ka' : datum.value == 12.4 ? 'YD' : datum.value == 14.1 ? 'BA' : datum.value == 16.45 ? 'HS1' : datum.value == 20.4 ? 'LGM' : ''", "tickColor": {"condition": {"test": "indexof([8, 12.4, 14.1, 16.45, 20.4], datum.value) >= 0", "value": "transparent"}, "value": "#111"}, "labelFontSize": 13.5, "labelPadding": 3}},
           "order": {"field": "age"}},
         "layer": [
           {"mark": {"type": "line", "color": "#e42d22", "strokeWidth": 1}},
           {"mark": {"type": "circle", "color": "#e42d22", "size": 18, "opacity": 1}}
         ]},
        {"data": {"values": [{}]}, "mark": {"type": "text", "text": "(m)", "fontSize": 16, "color": "#222"}, "encoding": {"x": {"datum": 24.1, "type": "quantitative", "axis": {"orient": "bottom", "title": "Pb (ppm)", "values": [10, 20, 30]}}, "y": {"datum": 26.7, "type": "quantitative", "axis": {"orient": "right", "title": null, "values": [8, 11.75, 12.4, 13.0, 14.1, 15.05, 16.45, 18.1, 20.4, 23.35], "labelExpr": "datum.value == 8 ? '8 ka' : datum.value == 12.4 ? 'YD' : datum.value == 14.1 ? 'BA' : datum.value == 16.45 ? 'HS1' : datum.value == 20.4 ? 'LGM' : ''", "tickColor": {"condition": {"test": "indexof([8, 12.4, 14.1, 16.45, 20.4], datum.value) >= 0", "value": "transparent"}, "value": "#111"}, "labelFontSize": 13.5, "labelPadding": 3}}}}
      ]
    }
  ]
}
